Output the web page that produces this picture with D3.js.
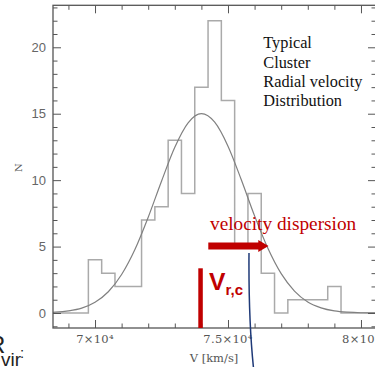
<!DOCTYPE html>
<html><head><meta charset="utf-8">
<script src="https://cdn.jsdelivr.net/npm/d3@7"></script>
<style>html,body{margin:0;padding:0;background:#fff;}svg{display:block;}</style>
</head><body>
<svg id="c" width="375" height="367"></svg>
<script>
// ---- data ----
const binStarts = [69750,70250,70750,71250,71750,72250,72750,73250,73750,74250,74750,75250,75750,76250,76750,77250,77750,78250,78750];
const binCounts = [4,3,2,2,7,8,13,9,17,22,16,5,9,3,0,1,1,1,2];
const binWidth = 500;
const fitV = [68420,68500,69000,69500,70000,70500,71000,71500,72000,72500,73000,73500,74000,74500,75000,75500,76000,76500,77000,77500,78000,78500,79000,79500,80000,80565];
const fitN = [0.05,0.06,0.16,0.37,0.81,1.60,2.90,4.78,7.21,9.92,12.47,14.31,15.00,14.36,12.56,10.03,7.31,4.87,2.96,1.65,0.83,0.39,0.16,0.06,0.02,0.01];
const xMajorTicks = [70000,75000,80000];
const xTickLabels = ["7×10⁴","7.5×10⁴","8×10⁴"];
const yMajorTicks = [0,5,10,15,20];
const infoLines = ["Typical","Cluster","Radial velocity","Distribution"];

const svg = d3.select("#c");
const L=53, R=376, T=5.3, B=328;
const x = d3.scaleLinear().domain([68420,80565]).range([L,R]);
const y = d3.scaleLinear().domain([-1.128,23.16]).range([B,T]);
const axisCol="#555", labCol="#555";

// histogram outline
const histPts = [[x.domain()[0],0]];
binStarts.forEach((s,i)=>histPts.push([s,binCounts[i]]));
histPts.push([binStarts[binStarts.length-1]+binWidth,0]);
histPts.push([x.domain()[1],0]);
svg.append("path")
  .attr("d", d3.line().x(d=>x(d[0])).y(d=>y(d[1])).curve(d3.curveStepAfter)(histPts))
  .attr("fill","none").attr("stroke","#aaaaaa").attr("stroke-width",1.5);

// fitted curve
svg.append("path")
  .attr("d", d3.line().x((d,i)=>x(fitV[i])).y(d=>y(d)).curve(d3.curveMonotoneX)(fitN))
  .attr("fill","none").attr("stroke","#808080").attr("stroke-width",1.2);

// axes with inward ticks (frame)
const xMinor = d3.range(69000,80001,1000).filter(v=>!xMajorTicks.includes(v));
const yMinor = d3.range(-1,24,1).filter(v=>!yMajorTicks.includes(v));
const g = svg.append("g");
function ax(axisFn, tr, vals, size){
  g.append("g").attr("transform",tr)
   .call(axisFn.tickValues(vals).tickSize(size).tickFormat(""))
   .call(s=>{s.select(".domain").remove(); s.selectAll("line").attr("stroke",axisCol).attr("stroke-width",1);});
}
ax(d3.axisTop(x), `translate(0,${B})`, xMajorTicks, 8);
ax(d3.axisTop(x), `translate(0,${B})`, xMinor, 4.5);
ax(d3.axisBottom(x), `translate(0,${T})`, xMajorTicks, 8);
ax(d3.axisBottom(x), `translate(0,${T})`, xMinor, 4.5);
ax(d3.axisRight(y), `translate(${L},0)`, yMajorTicks, 8);
ax(d3.axisRight(y), `translate(${L},0)`, yMinor, 4.5);
ax(d3.axisLeft(y), `translate(${R},0)`, yMajorTicks, 8);
ax(d3.axisLeft(y), `translate(${R},0)`, yMinor, 4.5);
g.append("rect").attr("x",L).attr("y",T).attr("width",R-L).attr("height",B-T)
  .attr("fill","none").attr("stroke",axisCol).attr("stroke-width",1.3);

// tick labels
g.selectAll(".yl").data(yMajorTicks).join("text")
  .attr("x",46).attr("y",d=>y(d)+4.6).attr("text-anchor","end")
  .attr("font-family","Liberation Sans, Arial, sans-serif").attr("font-size",13).attr("fill","#666")
  .text(d=>d);
g.selectAll(".xl").data(xMajorTicks).join("text")
  .attr("x",d=>x(d)).attr("y",342.5).attr("text-anchor","middle")
  .attr("font-family","DejaVu Serif, serif").attr("font-size",11.5).attr("fill",labCol)
  .attr("letter-spacing",0.3)
  .text((d,i)=>xTickLabels[i]);
g.append("text").attr("x",214).attr("y",362).attr("text-anchor","middle")
  .attr("font-family","DejaVu Serif, serif").attr("font-size",11.5).attr("fill",labCol)
  .text("V [km/s]");
g.append("text").attr("transform","translate(21.5,167.5) rotate(-90)").attr("text-anchor","middle")
  .attr("font-family","DejaVu Serif, serif").attr("font-size",10).attr("fill",labCol)
  .text("N");

// info text
svg.append("g").selectAll("text").data(infoLines).join("text")
  .attr("x",263.3).attr("y",(d,i)=>48.3+i*19.2)
  .attr("font-family","Liberation Serif, serif").attr("font-size",16.3).attr("fill","#111")
  .text(d=>d);

// annotations
const red="#c00000";
svg.append("text").attr("x",210).attr("y",230)
  .attr("font-family","Liberation Serif, serif").attr("font-size",19.3).attr("fill",red)
  .text("velocity dispersion");
// arrow
const ay = 246, ax0 = 208.3, ahx = 258.3, atip = 268.5;
svg.append("path")
  .attr("d",`M${ax0},${ay-3.4}H${ahx}V${ay-6}L${atip},${ay}L${ahx},${ay+6}V${ay+3.4}H${ax0}Z`)
  .attr("fill",red);
// vertical bar at mean
svg.append("rect").attr("x",198.3).attr("y",268.3).attr("width",4.5).attr("height",B-268.3).attr("fill",red);
const vt = svg.append("text").attr("x",209).attr("y",289.5)
  .attr("font-family","Liberation Sans, Arial, sans-serif").attr("font-weight","bold").attr("fill",red);
vt.append("tspan").attr("font-size",24.7).text("V");
vt.append("tspan").attr("font-size",15).attr("dy",5.5).text("r,c");
// blue line
svg.append("path").attr("d","M249,253 Q248.5,320 253.5,368")
  .attr("fill","none").attr("stroke","#1f3a78").attr("stroke-width",1.5);

// R_vir fragment (cut at the left edge as in the reference)
svg.append("text").attr("x",-12).attr("y",353)
  .attr("font-family","Liberation Sans, Arial, sans-serif").attr("font-size",24).attr("fill","#222").text("R");
svg.append("text").attr("x",1).attr("y",366)
  .attr("font-family","Liberation Sans, Arial, sans-serif").attr("font-size",19).attr("fill","#222").text("vir");
svg.append("text").attr("x",20).attr("y",358)
  .attr("font-family","Liberation Sans, Arial, sans-serif").attr("font-size",15).attr("fill","#222").text(":");
</script>
</body></html>
